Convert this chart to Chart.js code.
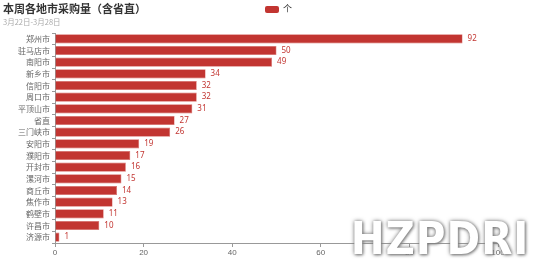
<!DOCTYPE html>
<html>
<head>
<meta charset="utf-8">
<script src="https://cdn.jsdelivr.net/npm/chart.js@4"></script>
<style>
  body { margin: 0; background: #fff; font-family: "Noto Sans CJK SC", "Noto Sans", sans-serif; }
  #wrap { position: relative; width: 554px; height: 277px; }
  #titulo { position: absolute; left: 3px; top: 0px; font-size: 11px; font-weight: bold; color: #333; }
  #sub { position: absolute; left: 3px; top: 16px; font-size: 7.5px; color: #aaa; }
  #legenda { position: absolute; left: 265px; top: 2px; font-size: 9px; color: #333; }
  #legenda span.cx { display: inline-block; width: 14px; height: 7px; background: #c23531; border-radius: 2px; vertical-align: middle; margin-right: 4px; }
  #marca { position: absolute; left: 350px; top: 212px; width: 180px; text-align: center; font-family: "Liberation Sans Narrow", "DejaVu Sans Condensed", sans-serif;
    font-weight: bold; font-size: 45px; line-height: 54px; color: #fff; letter-spacing: 1px;
    text-shadow: 0 0 4px #777, 1px 1px 3px #888; }
</style>
</head>
<body>
<div id="wrap">
  <canvas id="grafico" width="554" height="277"></canvas>
  <div id="titulo">本周各地市采购量（含省直）</div>
  <div id="sub">3月22日-3月28日</div>
  <div id="legenda"><span class="cx"></span>个</div>
  <div id="marca">HZPDRI</div>
</div>
<script>
// dados
const cidades = ["郑州市", "驻马店市", "南阳市", "新乡市", "信阳市", "周口市", "平顶山市", "省直", "三门峡市",
  "安阳市", "濮阳市", "开封市", "漯河市", "商丘市", "焦作市", "鹤壁市", "许昌市", "济源市"];
const quantidades = [92, 50, 49, 34, 32, 32, 31, 27, 26, 19, 17, 16, 15, 14, 13, 11, 10, 1];
const ticksX = [0, 20, 40, 60, 80, 100];

// rótulos com o valor ao lado de cada barra
const rotulos = {
  id: 'rotulos',
  afterDatasetsDraw(chart) {
    const ctx = chart.ctx;
    const meta = chart.getDatasetMeta(0);
    ctx.save();
    ctx.font = '8px "Noto Sans", sans-serif';
    ctx.fillStyle = '#c23531';
    ctx.textBaseline = 'middle';
    meta.data.forEach((bar, i) => {
      ctx.fillText(String(quantidades[i]), bar.x + 5, bar.y);
    });
    ctx.restore();
  }
};

function criarGrafico() {
  const ctx = document.getElementById('grafico').getContext('2d');
  new Chart(ctx, {
    type: 'bar',
    data: {
      labels: cidades,
      datasets: [{
        label: '个',
        data: quantidades,
        backgroundColor: '#c23531',
        borderColor: '#d9706d',
        borderWidth: 0.6,
        barPercentage: 0.78,
        categoryPercentage: 1
      }]
    },
    plugins: [rotulos],
    options: {
      indexAxis: 'y',
      responsive: false,
      animation: false,
      layout: { padding: { left: 0, right: 56, top: 33, bottom: 14 } },
      plugins: { legend: { display: false }, tooltip: { enabled: false } },
      scales: {
        x: {
          min: 0, max: 100,
          afterBuildTicks: s => { s.ticks = ticksX.map(v => ({ value: v })); },
          afterFit: s => { s.height = 20; },
          grid: { drawOnChartArea: false, drawTicks: true, tickLength: 4, color: '#999' },
          border: { color: '#999' },
          ticks: { color: '#666', font: { size: 8 }, padding: 1 }
        },
        y: {
          afterFit: s => { s.width = 55; },
          grid: { drawOnChartArea: false, drawTicks: true, tickLength: 3, color: '#999' },
          border: { color: '#999' },
          ticks: { color: '#666', font: { size: 8, family: '"Noto Sans CJK SC", sans-serif' }, padding: 2, autoSkip: false }
        }
      }
    }
  });
}

window.onload = criarGrafico;
</script>
</body>
</html>
